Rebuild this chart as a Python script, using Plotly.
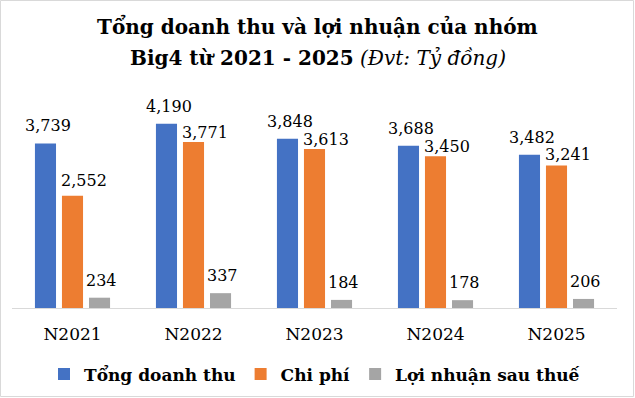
import plotly.graph_objects as go

categories = ["N2021", "N2022", "N2023", "N2024", "N2025"]
revenue = [3739, 4190, 3848, 3688, 3482]
cost = [2552, 3771, 3613, 3450, 3241]
profit = [234, 337, 184, 178, 206]

series_names = ["Tổng doanh thu", "Chi phí", "Lợi nhuận sau thuế"]
colors = ["#4472C4", "#ED7D31", "#A5A5A5"]

# label placement styles (pixels): horizontal slot offset of each series in a group,
# extra horizontal nudge of the label, and vertical gap above each bar
slot_offset = [-27, 0, 27]
label_dx = [2, 11, 2]
label_gap = [
    [11, 11, 11, 11, 11],
    [9, 3, 3, 3, 4],
    [11, 11, 11, 11, 11],
]

FONT = "DejaVu Serif"
W, H = 635, 398
L, R, T, B = 12, 18, 88, 90
PW, PH = W - L - R, H - T - B


def px_x(p):
    return (p - L) / PW


def px_y(p):
    return (H - B - p) / PH


fig = go.Figure()
annotations = []
for si, (name, vals, col) in enumerate(zip(series_names, [revenue, cost, profit], colors)):
    fig.add_trace(go.Bar(
        x=categories, y=vals, name=name,
        marker=dict(color=col, line=dict(width=0)),
        cliponaxis=False, hoverinfo="x+y+name",
    ))
    for ci, (cat, v) in enumerate(zip(categories, vals)):
        annotations.append(dict(
            x=cat, y=v, xref="x", yref="y", text=f"{v:,}",
            showarrow=False, xanchor="center", yanchor="bottom",
            xshift=slot_offset[si] + label_dx[si], yshift=label_gap[si][ci] - 5,
            font=dict(family=FONT, size=16, color="#000000"),
        ))

annotations += [
    dict(text="<b>Tổng doanh thu và lợi nhuận của nhóm</b>",
         xref="paper", yref="paper", x=px_x(W / 2), y=px_y(26),
         xanchor="center", yanchor="middle", showarrow=False,
         font=dict(family=FONT, size=20, color="#000000")),
    dict(text="<b>Big4 từ 2021 - 2025</b> <i>(Đvt: Tỷ đồng)</i>",
         xref="paper", yref="paper", x=px_x(W / 2), y=px_y(58),
         xanchor="center", yanchor="middle", showarrow=False,
         font=dict(family=FONT, size=20, color="#000000")),
]

fig.update_layout(
    width=W, height=H,
    margin=dict(l=L, r=R, t=T, b=B, autoexpand=False),
    paper_bgcolor="white", plot_bgcolor="white",
    barmode="group", bargap=0.33, bargroupgap=0.22,
    showlegend=True,
    annotations=annotations,
    xaxis=dict(
        showline=True, linecolor="#D9D9D9", linewidth=1,
        showgrid=False, ticks="", ticklabelstandoff=11,
        tickfont=dict(family=FONT, size=17, color="#000000"),
    ),
    yaxis=dict(range=[0, 5000], visible=False, showgrid=False),
    legend=dict(
        orientation="h", x=0.5, xanchor="center", y=-0.22, yanchor="top",
        font=dict(family=FONT, size=17, color="#000000", weight="bold"),
        itemwidth=30, traceorder="normal",
    ),
    shapes=[dict(type="rect", xref="paper", yref="paper",
                 x0=px_x(0.5), x1=px_x(633.5), y0=px_y(396.5), y1=px_y(0.5),
                 line=dict(color="#D9D9D9", width=1), fillcolor="rgba(0,0,0,0)",
                 layer="below")],
)

fig.write_html("out.html", post_script="document.body.style.margin='0';",
               config={"displayModeBar": False})
